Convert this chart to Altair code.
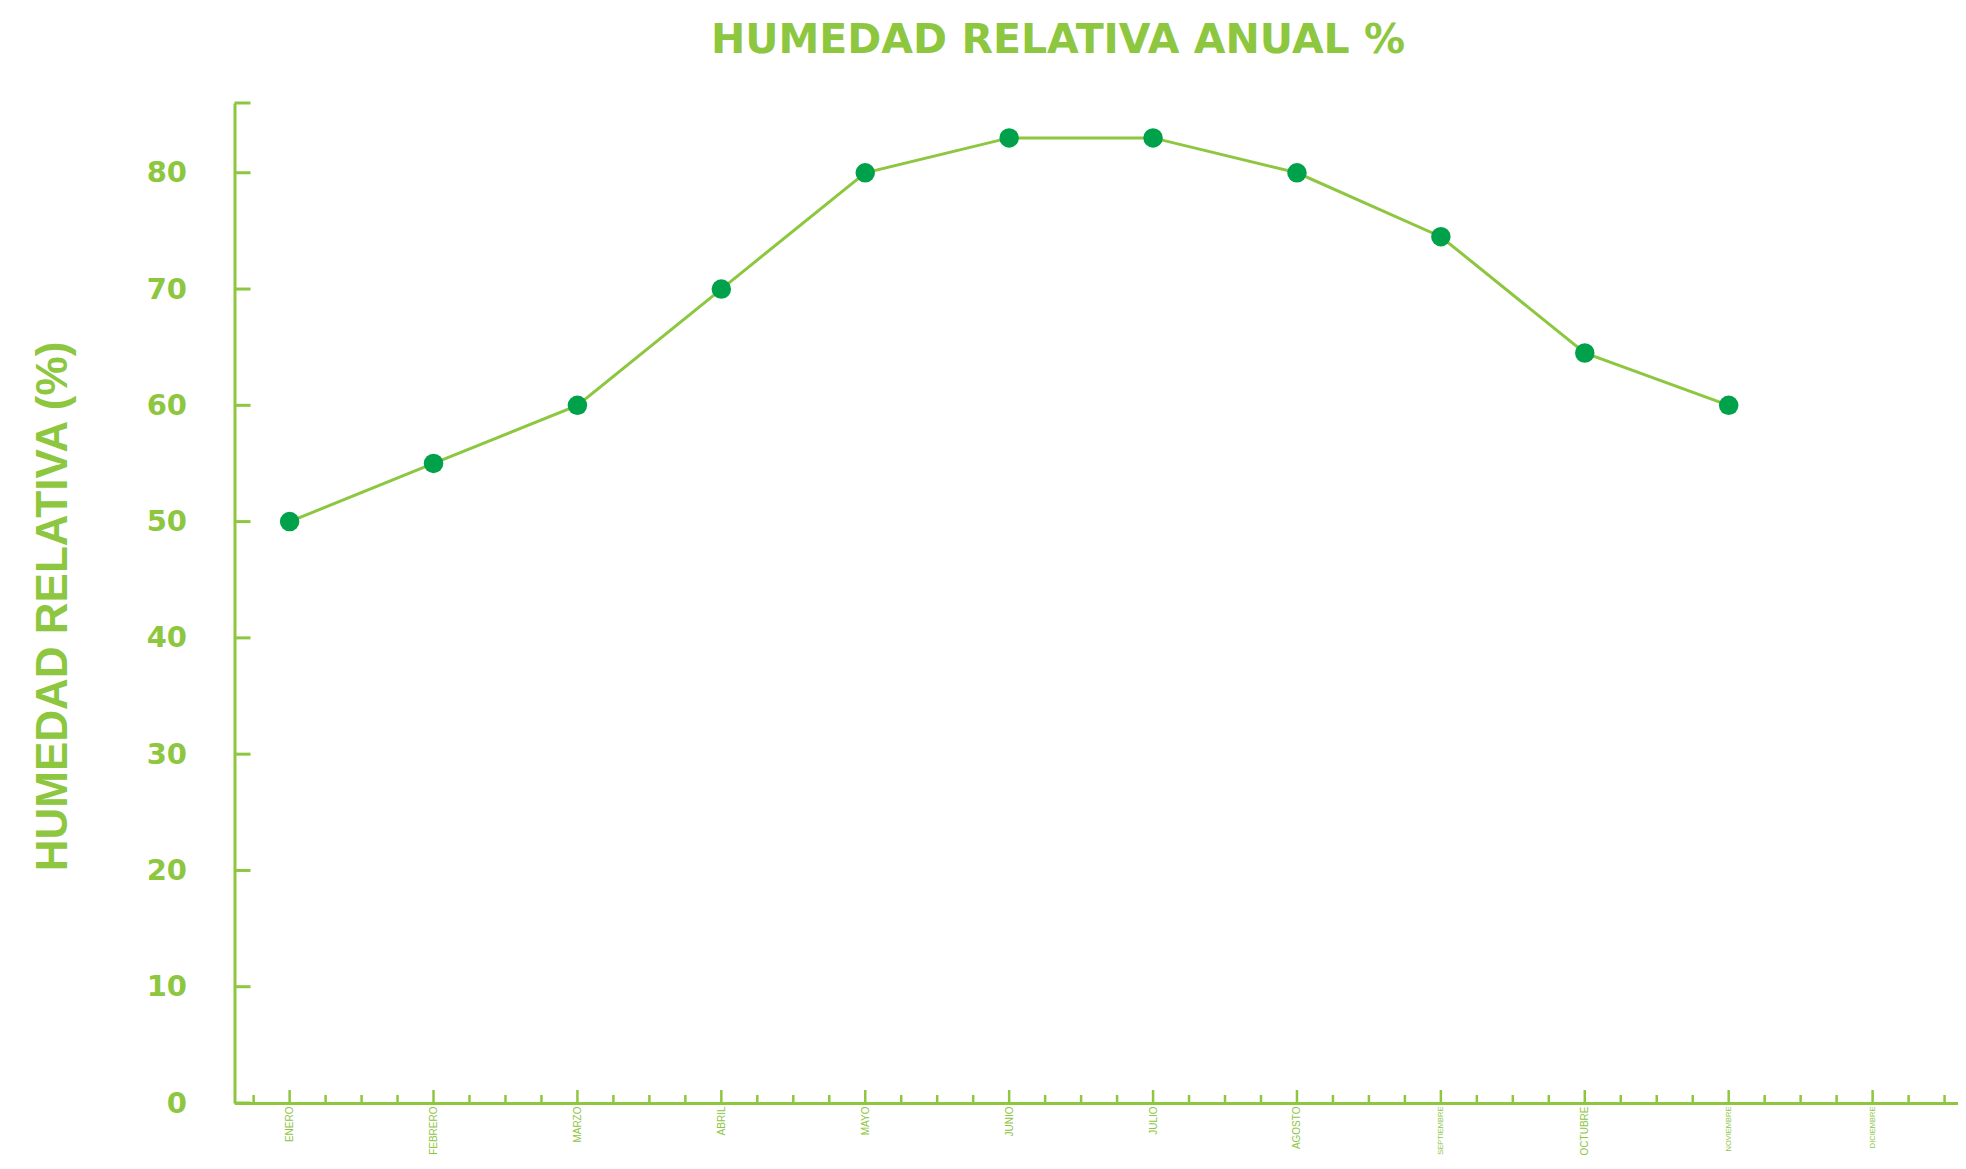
import altair as alt
import pandas as pd

# ---- data ----
MESES = ["ENERO", "FEBRERO", "MARZO", "ABRIL", "MAYO", "JUNIO", "JULIO",
         "AGOSTO", "SEPTIEMBRE", "OCTUBRE", "NOVIEMBRE", "DICIEMBRE"]
HUMEDAD = [50, 55, 60, 70, 80, 83, 83, 80, 74.5, 64.5, 60, None]
Y_TICKS = [0, 10, 20, 30, 40, 50, 60, 70, 80]
TITULO = "HUMEDAD RELATIVA ANUAL %"
EJE_Y = "HUMEDAD RELATIVA (%)"

# ---- style / layout ----
LIGHT = "#8DC63F"
DARK = "#00A14B"
W, H = 1723, 1000
X_DOMAIN = [0.617, 12.59]
Y_DOMAIN = [0, 86]

idx = list(range(1, len(MESES) + 1))
df = pd.DataFrame({"mes": MESES, "idx": idx, "hum": HUMEDAD}).dropna()

# tick positions (major per month, minor per quarter month)
major_x = pd.DataFrame({"pos": idx})
minor_pos = [0.75] + [i + q for i in idx for q in (0.25, 0.5, 0.75) if i + q <= 12.5]
minor_x = pd.DataFrame({"pos": minor_pos})
y_ticks_df = pd.DataFrame({"v": Y_TICKS + [Y_DOMAIN[1]]})

xscale = alt.Scale(domain=X_DOMAIN, nice=False, zero=False)
yscale = alt.Scale(domain=Y_DOMAIN, nice=False, zero=False)

label_expr = "[" + ",".join(f"'{m}'" for m in MESES) + "][datum.value - 1]"

x_axis = alt.Axis(
    values=idx, labelExpr=label_expr, ticks=False, grid=False,
    domainColor=LIGHT, domainWidth=3,
    labelAngle=270, labelAlign="right", labelBaseline="middle",
    labelColor=LIGHT, labelFont="Liberation Sans",
    labelFontSize={"condition": {"test": "datum.value == 9 || datum.value >= 11", "value": 7.5}, "value": 10},
    labelPadding=3, labelOverlap=False, title=None,
)
y_axis = alt.Axis(
    values=Y_TICKS, ticks=False, grid=False,
    domainColor=LIGHT, domainWidth=3,
    labelColor=LIGHT, labelFont="DejaVu Sans", labelFontSize=29, labelFontWeight="bold",
    labelPadding=48,
    title=EJE_Y, titleColor=LIGHT, titleFont="Liberation Sans", titleFontSize=44,
    titleFontWeight="bold", titleX=-181.5, titleY=503, titleAngle=270,
    titleAlign="center", titleBaseline="middle",
)

X = lambda f: alt.X(f, scale=xscale, axis=x_axis)
Y = lambda f: alt.Y(f, scale=yscale, axis=y_axis)

base = alt.Chart(df)
line = base.mark_line(color=LIGHT, strokeWidth=3).encode(
    x=X("idx:Q"), y=Y("hum:Q"),
)
points = base.mark_circle(color=DARK, size=380, opacity=1).encode(
    x=X("idx:Q"), y=Y("hum:Q"),
)
major_ticks = alt.Chart(major_x).mark_rule(color=LIGHT, strokeWidth=2.5).encode(
    x=X("pos:Q"), y=alt.value(H), y2=alt.value(H - 13),
)
minor_ticks = alt.Chart(minor_x).mark_rule(color=LIGHT, strokeWidth=2.5).encode(
    x=X("pos:Q"), y=alt.value(H), y2=alt.value(H - 8),
)
y_ticks = alt.Chart(y_ticks_df).mark_rule(color=LIGHT, strokeWidth=3).encode(
    y=Y("v:Q"), x=alt.value(0), x2=alt.value(16),
)

chart = alt.layer(line, major_ticks, minor_ticks, y_ticks, points).properties(
    width=W, height=H,
    background="white",
    autosize=alt.AutoSizeParams(type="none"),
    padding={"left": 226.5, "top": 95, "right": 0, "bottom": 53},
    title=alt.Title(TITULO, color=LIGHT, font="DejaVu Sans", fontSize=41,
                    fontWeight="bold", anchor="middle", dx=-38, offset=40),
).configure_view(stroke=None)

chart.save("out.html", embed_options={"renderer": "svg", "actions": False})
